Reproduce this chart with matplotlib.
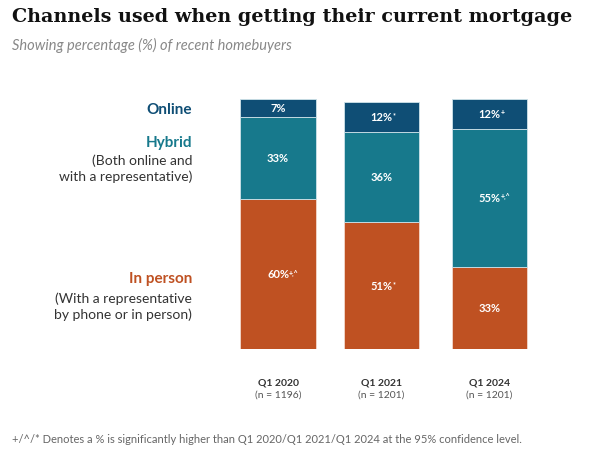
import matplotlib.pyplot as plt

# data
periods = ["Q1 2020", "Q1 2021", "Q1 2024"]
samples = ["(n = 1196)", "(n = 1201)", "(n = 1201)"]
in_person = [60, 51, 33]
hybrid = [33, 36, 55]
online = [7, 12, 12]
in_person_sup = ["+,^", "*", ""]
hybrid_sup = ["", "", "+,^"]
online_sup = ["", "*", "+"]

c_online = "#0f4e75"
c_hybrid = "#17798c"
c_person = "#bf5122"

plt.rcParams['font.family'] = ['Lato', 'DejaVu Sans']

fig = plt.figure(figsize=(6.1, 4.56), dpi=100)
W, H = 610, 456

# axes spans the bar area (pixel 200..560 horizontally, 100..350 vertically)
ax = fig.add_axes([200 / W, (H - 350) / H, 360 / W, 250 / H])
ax.set_xlim(0, 360)
ax.set_ylim(0, 100)
ax.axis("off")

xpos = [78, 181.5, 289.5]
width = 75


def label(x, y, txt, sup):
    t = ax.text(x, y, txt, ha="center", va="center", color="white",
                fontsize=8, fontweight="bold")
    if sup:
        ax.annotate(sup, xy=(1, 1.0), xycoords=t, ha="left", va="top",
                    color="white", fontsize=5, fontweight="bold")


bottom = [0, 0, 0]
for vals, sups, col in [(in_person, in_person_sup, c_person),
                        (hybrid, hybrid_sup, c_hybrid),
                        (online, online_sup, c_online)]:
    ax.bar(xpos, vals, width=width, bottom=bottom, color=col,
           edgecolor="#f3d9cc" if col == c_person else "#cfe3ea", linewidth=0.6)
    for i, v in enumerate(vals):
        label(xpos[i], bottom[i] + v / 2, f"{v}%", sups[i])
    bottom = [b + v for b, v in zip(bottom, vals)]

for i, p in enumerate(periods):
    fig.text((200 + xpos[i]) / W, 1 - 383 / H, p, ha="center", va="center",
             fontsize=7.5, fontweight="bold", color="#333333")
    fig.text((200 + xpos[i]) / W, 1 - 395 / H, samples[i], ha="center",
             va="center", fontsize=7.5, color="#555555")

# left-side legend labels
lx = 192 / W
fig.text(lx, 1 - 110 / H, "Online", ha="right", va="center", fontsize=11,
         fontweight="bold", color=c_online)
fig.text(lx, 1 - 143 / H, "Hybrid", ha="right", va="center", fontsize=11,
         fontweight="bold", color=c_hybrid)
fig.text(lx, 1 - 169 / H, "(Both online and\nwith a representative)", ha="right",
         va="center", fontsize=10, color="#333333", linespacing=1.3)
fig.text(lx, 1 - 279 / H, "In person", ha="right", va="center", fontsize=11,
         fontweight="bold", color=c_person)
fig.text(lx, 1 - 307 / H, "(With a representative\nby phone or in person)",
         ha="right", va="center", fontsize=10, color="#333333", linespacing=1.3)

fig.text(12 / W, 1 - 17 / H, "Channels used when getting their current mortgage",
         ha="left", va="center", fontsize=13.8, fontweight="bold",
         family="DejaVu Serif", color="#111111")
fig.text(12 / W, 1 - 45 / H, "Showing percentage (%) of recent homebuyers",
         ha="left", va="center", fontsize=10.5, style="italic", color="#888888")
fig.text(12 / W, 1 - 440 / H,
         "+/^/* Denotes a % is significantly higher than Q1 2020/Q1 2021/Q1 2024 at the 95% confidence level.",
         ha="left", va="center", fontsize=8, color="#666666")

fig.savefig("out.png", dpi=100)
